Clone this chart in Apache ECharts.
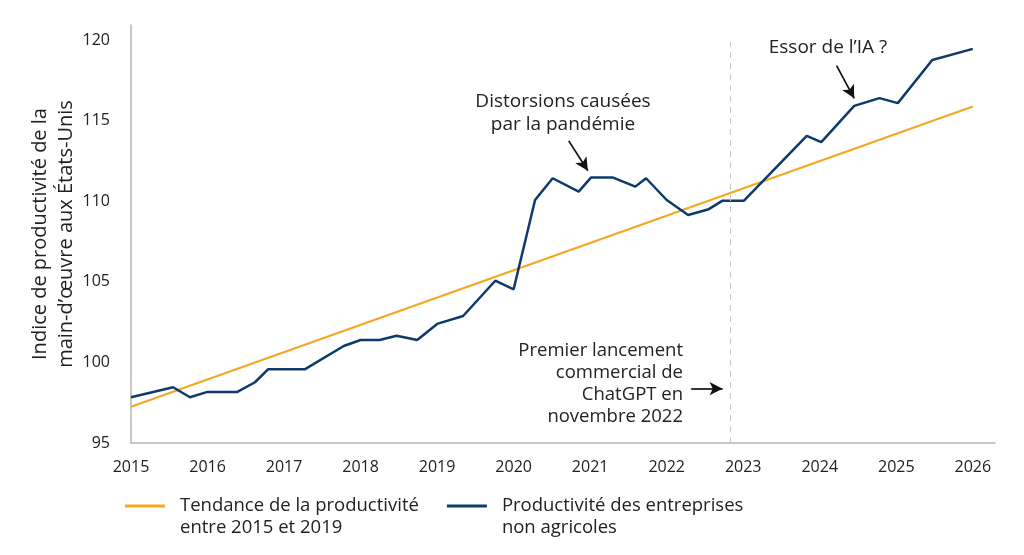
<!DOCTYPE html>
<html><head><meta charset="utf-8">
<script src="https://cdn.jsdelivr.net/npm/echarts@6/dist/echarts.min.js"></script>
<style>html,body{margin:0;padding:0;background:#fff}#c{width:1024px;height:555px}</style>
</head><body><div id="c"></div>
<script>
const prodYears = [2015.0, 2015.55, 2015.77, 2016.0, 2016.39, 2016.62, 2016.79, 2017.27, 2017.78, 2018.0, 2018.25, 2018.47, 2018.74, 2019.0, 2019.34, 2019.76, 2020.0, 2020.28, 2020.51, 2020.85, 2021.01, 2021.3, 2021.59, 2021.73, 2022.0, 2022.28, 2022.55, 2022.73, 2023.01, 2023.83, 2024.02, 2024.45, 2024.78, 2025.02, 2025.47, 2026.0];
const prodValues = [97.84, 98.46, 97.84, 98.17, 98.17, 98.77, 99.57, 99.57, 101.02, 101.39, 101.39, 101.66, 101.39, 102.39, 102.88, 105.07, 104.54, 110.08, 111.43, 110.60, 111.47, 111.47, 110.91, 111.43, 110.08, 109.15, 109.51, 110.04, 110.04, 114.06, 113.67, 115.92, 116.40, 116.09, 118.77, 119.46];
const trendYears = [2015.0, 2026.0];
const trendValues = [97.25, 115.88];
const chatgptLaunch = 2022.83;
const trendName = 'Tendance de la productivité\nentre 2015 et 2019';
const prodName = 'Productivité des entreprises\nnon agricoles';

const FONT = 'Open Sans';
const TXT = '#222';
const chart = echarts.init(document.getElementById('c'));
const zip = (xs, ys) => xs.map((x, i) => [x, ys[i]]);

chart.setOption({
  animation: false,
  grid: {left: 131, right: 29, top: 25, bottom: 112, containLabel: false, outerBoundsMode: 'none'},
  xAxis: {
    type: 'value', min: 2015, max: 2026.29, interval: 1,
    axisLine: {show: true, lineStyle: {color: '#b5b5b5', width: 1.5}},
    axisTick: {show: false}, splitLine: {show: false},
    axisLabel: {
      margin: 16, color: TXT, fontFamily: FONT, fontSize: 16,
      formatter: v => (Math.abs(v - Math.round(v)) < 1e-6 ? String(Math.round(v)) : '')
    }
  },
  yAxis: {
    type: 'value', min: 95, max: 120.94, interval: 5,
    name: 'Indice de productivité de la\nmain-d’œuvre aux États-Unis',
    nameLocation: 'middle', nameGap: 52, nameRotate: 90, nameMoveOverlap: false,
    nameTextStyle: {color: TXT, fontFamily: FONT, fontSize: 20, lineHeight: 26},
    axisLine: {show: true, lineStyle: {color: '#b5b5b5', width: 1.5}},
    axisTick: {show: false}, splitLine: {show: false},
    axisLabel: {
      margin: 21, color: TXT, fontFamily: FONT, fontSize: 16,
      formatter: v => (v % 5 === 0 ? String(v) : '')
    }
  },
  legend: {
    left: 125, top: 473, padding: 0, itemWidth: 40, itemHeight: 14, itemGap: 28,
    icon: 'path://M0,10 L40,10 L40,13 L0,13 Z',
    formatter: name => '\n' + name,
    textStyle: {color: TXT, fontFamily: FONT, fontSize: 18.5, lineHeight: 22, padding: [0, 0, 0, 10]},
    data: [trendName, prodName]
  },
  series: [
    {
      name: trendName, type: 'line', data: zip(trendYears, trendValues),
      showSymbol: false, lineStyle: {color: '#f4a720', width: 2.2}, itemStyle: {color: '#f4a720'}, z: 2,
      markLine: {
        silent: true, symbol: ['none', 'none'],
        lineStyle: {color: '#c8c8c8', type: [6, 5], width: 1},
        label: {show: false},
        data: [[{coord: [chatgptLaunch, 95]}, {coord: [chatgptLaunch, 119.9]}]]
      }
    },
    {
      name: prodName, type: 'line', data: zip(prodYears, prodValues),
      showSymbol: false, lineStyle: {color: '#0d3a6b', width: 2.5}, itemStyle: {color: '#0d3a6b'}, z: 3,
      markLine: {
        silent: true, symbol: ['none', 'arrow'], symbolSize: [10, 13],
        lineStyle: {color: '#111', type: 'solid', width: 1.7},
        label: {show: false},
        data: [
          [{coord: [2024.22, 118.42]}, {coord: [2024.45, 116.39]}],
          [{coord: [2020.72, 113.75]}, {coord: [2020.97, 111.9]}],
          [{coord: [2022.32, 98.37]}, {coord: [2022.73, 98.37]}]
        ]
      }
    }
  ],
  graphic: [
    {type: 'text', x: 828, y: 38, style: {text: 'Essor de l’IA ?', fill: TXT, font: '19px "Open Sans"', align: 'center'}},
    {type: 'text', x: 563, y: 90, style: {text: 'Distorsions causées\npar la pandémie', fill: TXT, font: '19px "Open Sans"', align: 'center', lineHeight: 23}},
    {type: 'text', x: 683, y: 340, style: {text: 'Premier lancement\ncommercial de\nChatGPT en\nnovembre 2022', fill: TXT, font: '18.5px "Open Sans"', align: 'right', lineHeight: 22}}
  ]
});
</script></body></html>
